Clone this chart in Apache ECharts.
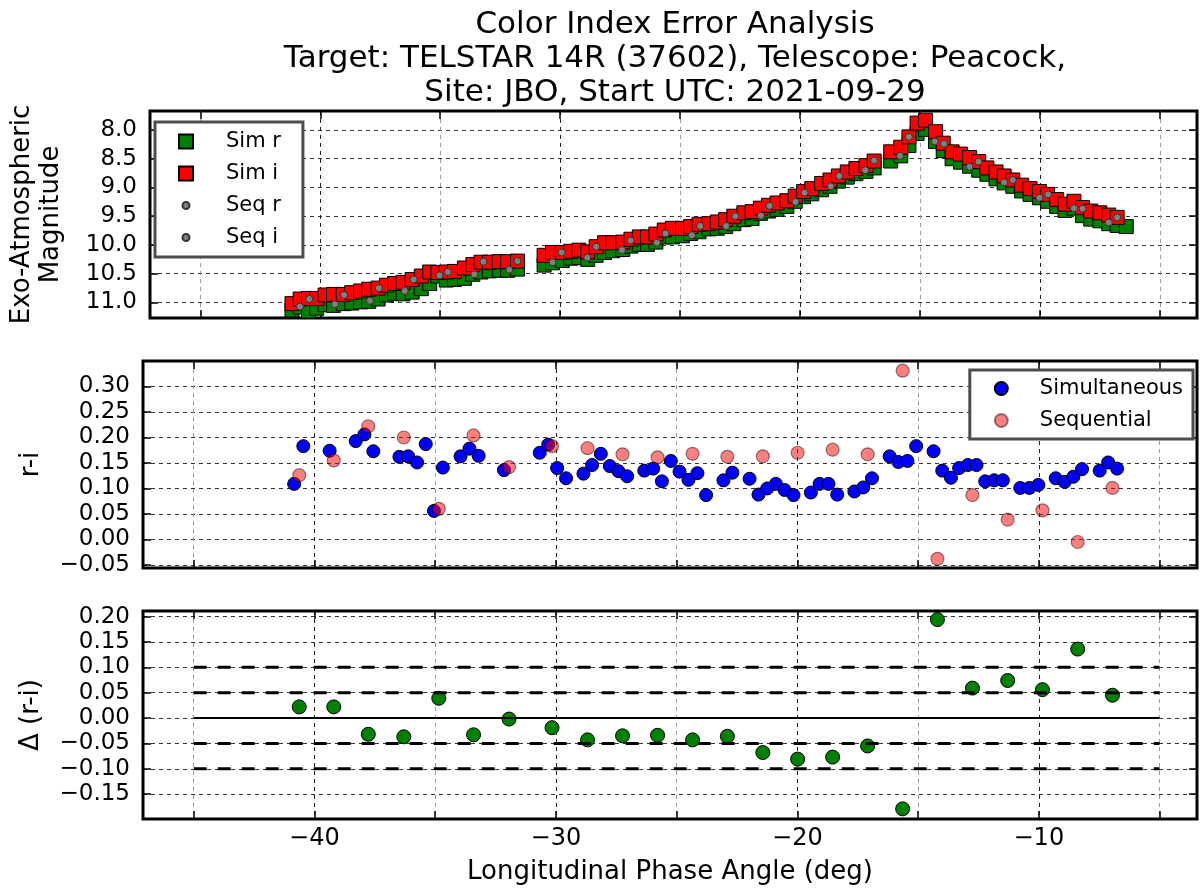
<!DOCTYPE html>
<html>
<head>
<meta charset="utf-8">
<title>Color Index Error Analysis</title>
<script src="https://cdn.jsdelivr.net/npm/echarts@6/dist/echarts.min.js"></script>
<style>
  html, body { margin: 0; padding: 0; background: #fff; }
  #chart { width: 1203px; height: 892px; }
</style>
</head>
<body>
<div id="chart"></div>
<script>
// simultaneous photometry (top panel)
const simPhase = [-41.18,-40.84,-40.49,-40.15,-39.80,-39.45,-39.04,-38.69,-38.32,-37.98,
  -37.59,-37.24,-36.90,-36.55,-36.17,-35.79,-35.44,-35.10,-34.75,-34.41,
  -33.99,-33.64,-33.30,-32.95,-32.54,-32.19,-31.78,-30.67,-30.32,-29.91,
  -29.56,-29.22,-28.85,-28.50,-28.15,-27.81,-27.39,-27.05,-26.70,-26.36,
  -26.01,-25.66,-25.32,-24.90,-24.56,-24.21,-23.80,-23.45,-23.10,-22.76,
  -22.34,-22.00,-21.65,-21.31,-20.96,-20.55,-20.20,-19.85,-19.51,-19.10,
  -18.75,-18.40,-18.03,-17.67,-17.25,-16.91,-16.22,-15.80,-15.46,-15.12,
  -14.77,-14.35,-14.03,-13.66,-13.31,-12.93,-12.55,-12.21,-11.83,-11.49,
  -11.13,-10.76,-10.41,-10.02,-9.68,-9.30,-8.95,-8.58,-8.22,-7.88,
  -7.50,-7.13,-6.78,-6.40];
const simR = [11.13,11.08,11.15,11.10,11.04,11.05,11.02,11.01,10.99,10.98,
  10.94,10.87,10.84,10.85,10.82,10.76,10.67,10.54,10.61,10.60,
  10.58,10.51,10.47,10.45,10.44,10.44,10.42,10.35,10.31,10.27,
  10.23,10.22,10.25,10.18,10.13,10.10,10.08,10.02,9.99,9.99,
  9.95,9.86,9.86,9.84,9.80,9.77,9.72,9.71,9.68,9.63,
  9.56,9.54,9.45,9.41,9.38,9.33,9.24,9.16,9.11,9.04,
  8.98,8.89,8.82,8.76,8.72,8.66,8.54,8.45,8.27,8.06,
  7.99,8.20,8.36,8.50,8.56,8.63,8.70,8.77,8.85,8.92,
  8.98,9.06,9.12,9.18,9.24,9.33,9.40,9.36,9.49,9.55,
  9.58,9.63,9.66,9.68];
const simI = [11.02,10.94,10.93,10.93,10.87,10.86,10.86,10.83,10.80,10.77,
  10.75,10.70,10.67,10.65,10.60,10.54,10.47,10.48,10.47,10.46,
  10.40,10.34,10.30,10.30,10.29,10.29,10.28,10.18,10.13,10.13,
  10.11,10.09,10.12,10.03,9.96,9.96,9.95,9.90,9.86,9.86,
  9.81,9.74,9.71,9.71,9.68,9.64,9.63,9.60,9.56,9.50,
  9.44,9.42,9.36,9.31,9.27,9.23,9.15,9.07,9.02,8.93,
  8.87,8.80,8.73,8.67,8.62,8.54,8.38,8.30,8.12,7.88,
  7.83,8.03,8.23,8.38,8.42,8.48,8.55,8.66,8.73,8.80,
  8.87,8.96,9.02,9.07,9.12,9.21,9.29,9.24,9.35,9.41,
  9.44,9.48,9.52,null];

// sequential photometry (top panel)
const seqRPhase = [-40.85,-39.39,-37.93,-36.48,-35.03,-33.58,-32.12,-30.32,-28.87,-27.42,-25.97,-24.51,
  -23.08,-21.63,-20.19,-18.72,-17.28,-15.83,-14.38,-12.93,-11.49,-10.02,-8.58,-7.13];
const seqR = [11.07,11.03,10.97,10.80,10.53,10.51,10.43,10.30,10.22,10.09,9.96,9.83,
  9.67,9.49,9.25,8.98,8.70,8.45,8.20,8.64,8.91,9.18,9.36,9.61];
const seqIPhase = [-40.46,-39.01,-37.56,-36.11,-34.68,-33.20,-31.78,-29.94,-28.50,-27.06,-25.61,-24.16,
  -22.70,-21.27,-19.81,-18.36,-16.91,-15.46,-14.00,-12.56,-11.13,-9.66,-8.22,-6.78];
const seqI = [10.94,10.87,10.75,10.60,10.47,10.29,10.28,10.13,10.03,9.92,9.80,9.67,
  9.50,9.32,9.09,8.80,8.53,8.12,8.24,8.55,8.87,9.12,9.37,9.52];

// r-i colour index (middle panel)
const simRIPhase = [-40.84,-40.46,-39.37,-38.29,-37.93,-37.56,-36.48,-36.12,-35.75,-35.39,
  -35.05,-34.68,-33.95,-33.58,-33.20,-32.15,-30.67,-30.32,-29.95,-29.58,
  -28.86,-28.50,-28.14,-27.77,-27.41,-27.05,-26.34,-25.97,-25.61,-25.24,
  -24.88,-24.51,-24.14,-23.78,-23.06,-22.69,-21.98,-21.61,-21.25,-20.89,
  -20.53,-20.16,-19.44,-19.08,-18.71,-18.35,-17.64,-17.27,-16.91,-16.18,
  -15.82,-15.44,-15.08,-14.36,-14.00,-13.64,-13.30,-12.94,-12.58,-12.22,
  -11.85,-11.49,-10.77,-10.39,-10.02,-9.30,-8.93,-8.57,-8.21,-7.48,
  -7.13,-6.76];
const simRI = [0.109,0.183,0.174,0.193,0.206,0.173,0.162,0.163,0.151,0.187,
  0.056,0.141,0.163,0.178,0.164,0.136,0.170,0.186,0.140,0.120,
  0.129,0.146,0.168,0.144,0.134,0.124,0.135,0.139,0.114,0.154,
  0.133,0.117,0.130,0.087,0.116,0.131,0.119,0.088,0.100,0.109,
  0.097,0.087,0.092,0.109,0.109,0.088,0.094,0.102,0.120,0.163,
  0.152,0.154,0.183,0.173,0.135,0.121,0.140,0.146,0.146,0.114,
  0.116,0.116,0.101,0.101,0.107,0.120,0.113,0.123,0.138,0.135,
  0.151,0.139];
const seqPhase = [-40.63,-39.20,-37.77,-36.30,-34.85,-33.41,-31.94,-30.16,-28.69,-27.24,-25.79,-24.34,
  -22.90,-21.43,-19.99,-18.54,-17.09,-15.64,-14.20,-12.75,-11.29,-9.85,-8.39,-6.95];
const seqRI = [0.126,0.155,0.222,0.200,0.060,0.204,0.142,0.183,0.179,0.167,0.161,0.168,
  0.162,0.163,0.170,0.176,0.167,0.331,-0.038,0.087,0.039,0.057,-0.005,0.101];

// difference (bottom panel)
const deltaRI = [0.022,0.022,-0.032,-0.037,0.039,-0.033,-0.002,-0.019,-0.043,-0.035,-0.034,-0.043,
  -0.036,-0.068,-0.081,-0.077,-0.055,-0.179,0.194,0.059,0.074,0.056,0.136,0.045];
const refSpan = [-45, -5];
const dashLevels = [0.10, 0.05, -0.05, -0.10];

// ticks
const xMajorTicks = [-40, -30, -20, -10];
const xAllTicks = [-45, -40, -35, -30, -25, -20, -15, -10, -5];
const magTicks = [8.0, 8.5, 9.0, 9.5, 10.0, 10.5, 11.0];
const riTicks = [-0.05, 0.00, 0.05, 0.10, 0.15, 0.20, 0.25, 0.30];
const dTicks = [-0.15, -0.10, -0.05, 0.00, 0.05, 0.10, 0.15, 0.20];

const FONT = 'DejaVu Sans';
const minus = s => s.replace('-', '\u2212');
const pairs = (xs, ys) => xs.map((x, i) => [x, ys[i] == null ? '-' : ys[i]]);
const tickStyle = { color: '#000', width: 1.5 };
const noLine = { show: false, onZero: false };
const X_MIN = -47.1, X_MAX = -3.45;

const grids = [
  { left: 143, top: 111, width: 1054, height: 207 },
  { left: 143, top: 361, width: 1054, height: 207 },
  { left: 143, top: 611, width: 1054, height: 208 }
].map(g => Object.assign(g, { show: true, borderColor: '#000', borderWidth: 3, backgroundColor: 'transparent' }));

// three x axes per panel: light grid + bottom ticks, top ticks, dark major grid
const xAxes = [];
for (let g = 0; g < 3; g++) {
  xAxes.push({
    type: 'value', gridIndex: g, position: 'bottom', min: X_MIN, max: X_MAX,
    axisLine: noLine,
    axisTick: { show: true, inside: true, length: 8, customValues: xAllTicks, lineStyle: tickStyle },
    axisLabel: {
      show: g === 2, customValues: xMajorTicks, margin: 8,
      fontFamily: FONT, fontSize: 24, color: '#000',
      formatter: v => minus(String(v))
    },
    splitLine: { show: true, lineStyle: { color: '#999', type: [4, 4], width: 1 } },
    name: g === 2 ? 'Longitudinal Phase Angle (deg)' : '',
    nameLocation: 'middle', nameGap: 40,
    nameTextStyle: { fontFamily: FONT, fontSize: 26, color: '#000' }
  });
  xAxes.push({
    type: 'value', gridIndex: g, position: 'top', min: X_MIN, max: X_MAX,
    axisLine: noLine,
    axisTick: { show: true, inside: true, length: 8, customValues: xAllTicks, lineStyle: tickStyle },
    axisLabel: { show: false },
    splitLine: { show: false }
  });
  xAxes.push({
    type: 'value', gridIndex: g, position: 'bottom', min: X_MIN, max: X_MAX,
    axisLine: noLine,
    axisTick: { show: false, customValues: xMajorTicks },
    axisLabel: { show: false },
    splitLine: { show: true, lineStyle: { color: '#222', type: [4, 4], width: 1 } }
  });
}

function yAxis(g, min, max, ticks, digits, name, gap, extra) {
  return Object.assign({
    type: 'value', gridIndex: g, min: min, max: max, position: 'left',
    axisLine: noLine,
    axisTick: { show: true, inside: true, length: 8, customValues: ticks, lineStyle: tickStyle },
    axisLabel: {
      customValues: ticks, margin: 13, fontFamily: FONT, fontSize: 23, color: '#000',
      formatter: v => minus(v.toFixed(digits))
    },
    splitLine: { show: true, lineStyle: { color: '#333', type: [4, 4], width: 1 } },
    name: name, nameLocation: 'middle', nameGap: gap,
    nameTextStyle: { fontFamily: FONT, fontSize: 26, color: '#000', lineHeight: 29 }
  }, extra || {});
}
function yRight(g, min, max, ticks, extra) {
  return Object.assign({
    type: 'value', gridIndex: g, min: min, max: max, position: 'right',
    axisLine: noLine,
    axisTick: { show: true, inside: true, length: 8, customValues: ticks, lineStyle: tickStyle },
    axisLabel: { show: false },
    splitLine: { show: false }
  }, extra || {});
}

const yAxes = [
  yAxis(0, 7.67, 11.27, magTicks, 1, 'Exo-Atmospheric\nMagnitude', 84, { inverse: true }),
  yAxis(1, -0.056, 0.35, riTicks, 2, 'r-i', 97),
  yAxis(2, -0.199, 0.211, dTicks, 2, '\u0394 (r-i)', 97),
  yRight(0, 7.67, 11.27, magTicks, { inverse: true }),
  yRight(1, -0.056, 0.35, riTicks),
  yRight(2, -0.199, 0.211, dTicks)
];

const seqIcon = 'path://M0,0M14,14M3.5,7A3.5,3.5,0,1,1,10.5,7A3.5,3.5,0,1,1,3.5,7Z';

const series = [
  { name: 'Sim r', type: 'scatter', xAxisIndex: 0, yAxisIndex: 0, symbol: 'rect', symbolSize: 14,
    itemStyle: { color: '#008000', borderColor: '#000', borderWidth: 1, opacity: 1 },
    data: pairs(simPhase, simR) },
  { name: 'Sim i', type: 'scatter', xAxisIndex: 0, yAxisIndex: 0, symbol: 'rect', symbolSize: 14,
    itemStyle: { color: '#ff0000', borderColor: '#000', borderWidth: 1, opacity: 1 },
    data: pairs(simPhase, simI) },
  { name: 'Seq r', type: 'scatter', xAxisIndex: 0, yAxisIndex: 0, symbol: 'circle', symbolSize: 7,
    itemStyle: { color: '#808080', borderColor: '#333', borderWidth: 1, opacity: 1 },
    data: pairs(seqRPhase, seqR) },
  { name: 'Seq i', type: 'scatter', xAxisIndex: 0, yAxisIndex: 0, symbol: 'circle', symbolSize: 7,
    itemStyle: { color: '#808080', borderColor: '#333', borderWidth: 1, opacity: 1 },
    data: pairs(seqIPhase, seqI) },
  { name: 'Simultaneous', type: 'scatter', xAxisIndex: 3, yAxisIndex: 1, symbol: 'circle', symbolSize: 13,
    itemStyle: { color: '#0000ff', borderColor: '#000', borderWidth: 1, opacity: 1 },
    data: pairs(simRIPhase, simRI) },
  { name: 'Sequential', type: 'scatter', xAxisIndex: 3, yAxisIndex: 1, symbol: 'circle', symbolSize: 13,
    itemStyle: { color: 'rgba(255,0,0,0.5)', borderColor: 'rgba(0,0,0,0.45)', borderWidth: 1.2, opacity: 1 },
    data: pairs(seqPhase, seqRI) },
  { name: 'zero', type: 'line', xAxisIndex: 6, yAxisIndex: 2, symbol: 'none', silent: true,
    lineStyle: { color: '#000', width: 2 }, data: refSpan.map(x => [x, 0]) }
];
dashLevels.forEach(lv => series.push({
  name: 'band ' + lv, type: 'line', xAxisIndex: 6, yAxisIndex: 2, symbol: 'none', silent: true,
  lineStyle: { color: '#000', width: 3, type: [13, 11] }, data: refSpan.map(x => [x, lv])
}));
series.push({ name: 'delta', type: 'scatter', xAxisIndex: 6, yAxisIndex: 2, symbol: 'circle', symbolSize: 14,
  itemStyle: { color: '#008000', borderColor: '#000', borderWidth: 1, opacity: 1 },
  data: pairs(seqPhase, deltaRI) });

const legendBase = {
  orient: 'vertical', backgroundColor: '#fff', borderColor: '#4d4d4d', borderWidth: 3, borderRadius: 0,
  selectedMode: false,
  textStyle: { fontFamily: FONT, fontSize: 21, color: '#000', lineHeight: 21 }
};

const option = {
  animation: false,
  backgroundColor: '#fff',
  title: {
    text: 'Color Index Error Analysis\nTarget: TELSTAR 14R (37602), Telescope: Peacock,\nSite: JBO, Start UTC: 2021-09-29',
    left: 670, top: 3, textAlign: 'center',
    textStyle: { fontFamily: FONT, fontSize: 31, fontWeight: 'normal', color: '#000', lineHeight: 34 }
  },
  grid: grids,
  xAxis: xAxes,
  yAxis: yAxes,
  legend: [
    Object.assign({}, legendBase, {
      left: 155, top: 122, itemWidth: 14, itemHeight: 14, itemGap: 11,
      padding: [9, 22, 9, 23],
      textStyle: Object.assign({}, legendBase.textStyle, { padding: [0, 0, 0, 28] }),
      data: [
        { name: 'Sim r', icon: 'rect' },
        { name: 'Sim i', icon: 'rect' },
        { name: 'Seq r', icon: seqIcon },
        { name: 'Seq i', icon: seqIcon }
      ]
    }),
    Object.assign({}, legendBase, {
      right: 10, top: 370, itemWidth: 13, itemHeight: 13, itemGap: 11,
      padding: [8, 10, 8, 24],
      textStyle: Object.assign({}, legendBase.textStyle, { padding: [0, 0, 0, 27] }),
      data: [
        { name: 'Simultaneous', icon: 'circle' },
        { name: 'Sequential', icon: 'circle' }
      ]
    })
  ],
  series: series
};

const chart = echarts.init(document.getElementById('chart'), null, { renderer: 'canvas' });
chart.setOption(option);
</script>
</body>
</html>
